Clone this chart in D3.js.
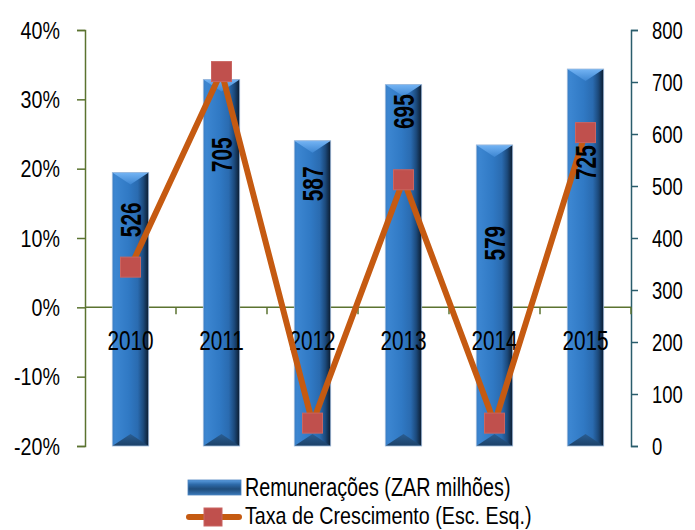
<!DOCTYPE html>
<html>
<head>
<meta charset="utf-8">
<script src="https://cdn.jsdelivr.net/npm/d3@7"></script>
<style>
  html, body { margin: 0; padding: 0; background: #fff; }
  svg { display: block; }
  text { font-family: "Liberation Sans", Arial, sans-serif; fill: #000; }
</style>
</head>
<body>
<svg id="chart" width="695" height="530"></svg>
<script>
// Remunerações anuais (ZAR milhões) e respectiva taxa de crescimento
const years = ["2010", "2011", "2012", "2013", "2014", "2015"];
const remuneracoes = [526, 705, 587, 695, 579, 725];
const taxaCrescimento = [5.8, 34.0, -16.7, 18.4, -16.7, 25.2];
const leftTicks = [-20, -10, 0, 10, 20, 30, 40];
const rightTicks = [0, 100, 200, 300, 400, 500, 600, 700, 800];
const seriesNames = ["Remunerações (ZAR milhões)", "Taxa de Crescimento (Esc. Esq.)"];

const svg = d3.select("#chart");
const plot = { left: 85, right: 631, top: 30, bottom: 446 };

const x = d3.scaleBand().domain(years).range([plot.left, plot.right]).padding(0);
const yL = d3.scaleLinear().domain([-20, 40]).range([plot.bottom, plot.top]);
const yR = d3.scaleLinear().domain([0, 800]).range([plot.bottom, plot.top]);

const barW = x.bandwidth() * 0.4;
const narrow = 0.77;

// gradients for the bevelled bars
const defs = svg.append("defs");
const gBody = defs.append("linearGradient").attr("id", "barBody")
  .attr("x1", 0).attr("x2", 1).attr("y1", 0).attr("y2", 0);
[[0, "#3a7fc6"], [0.08, "#3c86d1"], [0.45, "#3079c4"], [0.7, "#2a6bb0"],
 [0.85, "#1c4a7c"], [1, "#0b1b2e"]].forEach(([o, c]) =>
  gBody.append("stop").attr("offset", o).attr("stop-color", c));
const gTop = defs.append("linearGradient").attr("id", "barTop")
  .attr("x1", 0).attr("x2", 0).attr("y1", 0).attr("y2", 1);
[[0, "#74b4f4"], [1, "#3d86d2"]].forEach(([o, c]) =>
  gTop.append("stop").attr("offset", o).attr("stop-color", c));
const gBot = defs.append("linearGradient").attr("id", "barBot")
  .attr("x1", 0).attr("x2", 0).attr("y1", 0).attr("y2", 1);
[[0, "#2a5e93"], [1, "#1c4168"]].forEach(([o, c]) =>
  gBot.append("stop").attr("offset", o).attr("stop-color", c));
const gLeg = defs.append("linearGradient").attr("id", "legBar")
  .attr("x1", 0).attr("x2", 0).attr("y1", 0).attr("y2", 1);
[[0, "#5a9de0"], [0.3, "#2d6aa8"], [0.6, "#1f4c7a"], [1, "#3a78b8"]].forEach(([o, c]) =>
  gLeg.append("stop").attr("offset", o).attr("stop-color", c));

// condensed text helper
function narrowText(g, str, tx, ty, size, anchor, opts = {}) {
  const t = g.append("text")
    .attr("transform", `translate(${tx},${ty})${opts.rotate ? " rotate(" + opts.rotate + ")" : ""} scale(${opts.sx || narrow},1)`)
    .attr("text-anchor", anchor)
    .style("font-size", size + "px")
    .text(str);
  if (opts.bold) t.style("font-weight", "bold");
  if (opts.dy) t.attr("dy", opts.dy);
  return t;
}

// left axis (growth rate)
const axL = svg.append("g").attr("transform", `translate(${plot.left},0)`)
  .call(d3.axisLeft(yL).tickValues(leftTicks).tickSize(8).tickFormat(""));
axL.selectAll("path, line").attr("stroke", "#5b7330").attr("stroke-width", 1.5);
leftTicks.forEach(v => narrowText(svg, v + "%", 60, yL(v) + 8.6, 24, "end", { sx: 0.82 }));

// right axis (remunerations)
const axR = svg.append("g").attr("transform", `translate(${plot.right},0)`)
  .call(d3.axisRight(yR).tickValues(rightTicks).tickSize(7).tickFormat(""));
axR.selectAll("path, line").attr("stroke", "#2a5d6c").attr("stroke-width", 1.5);
rightTicks.forEach(v => narrowText(svg, String(v), 652, yR(v) + 8.6, 24, "start"));

// category axis along the 0% line
const y0 = yL(0);
const xAxis = svg.append("g");
xAxis.append("line").attr("x1", plot.left).attr("x2", plot.right)
  .attr("y1", y0).attr("y2", y0).attr("stroke", "#5b7330").attr("stroke-width", 1.5);
const bounds = years.map(d => x(d)).concat([x.range()[1]]).slice(1);
xAxis.selectAll("line.tick").data(bounds).join("line")
  .attr("class", "tick")
  .attr("x1", d => d).attr("x2", d => d)
  .attr("y1", y0).attr("y2", y0 + 7)
  .attr("stroke", "#5b7330").attr("stroke-width", 1.5);

// bevelled bars
const bev = 12;
const bars = svg.append("g");
years.forEach((yr, i) => {
  const cx = x(yr) + x.bandwidth() / 2;
  const x0 = cx - barW / 2, x1 = cx + barW / 2;
  const yt = yR(remuneracoes[i]), yb = yR(0);
  const g = bars.append("g");
  g.append("rect").attr("x", x0).attr("y", yt).attr("width", barW).attr("height", yb - yt)
    .attr("fill", "url(#barBody)");
  g.append("path").attr("d", `M${x0},${yt}L${x1},${yt}L${cx},${yt + bev}Z`)
    .attr("fill", "url(#barTop)");
  g.append("path").attr("d", `M${x0},${yb}L${x1},${yb}L${cx},${yb - bev}Z`)
    .attr("fill", "url(#barBot)");
  g.append("rect").attr("x", x0).attr("y", yt).attr("width", barW).attr("height", yb - yt)
    .attr("fill", "none").attr("stroke", "#9fbbdc").attr("stroke-width", 0.8);
});

// year labels
years.forEach(yr => narrowText(svg, yr, x(yr) + x.bandwidth() / 2, 350, 27, "middle"));

// growth line with square markers
const pts = years.map((yr, i) => [x(yr) + x.bandwidth() / 2, yL(taxaCrescimento[i])]);
svg.append("path").attr("d", d3.line()(pts))
  .attr("fill", "none").attr("stroke", "#c55a11").attr("stroke-width", 6)
  .attr("stroke-linejoin", "miter");
const mk = 20;
svg.append("g").selectAll("rect").data(pts).join("rect")
  .attr("x", d => d[0] - mk / 2).attr("y", d => d[1] - mk / 2)
  .attr("width", mk).attr("height", mk)
  .attr("fill", "#c0504d").attr("stroke", "#c96562").attr("stroke-width", 1);

// value labels inside the bars, placed along the right-axis scale
const labelAt = [435, 560, 504, 643, 390, 545];
years.forEach((yr, i) => {
  const cx = x(yr) + x.bandwidth() / 2;
  narrowText(svg, String(remuneracoes[i]), cx, yR(labelAt[i]), 29, "middle",
    { rotate: -90, bold: true, sx: 0.72, dy: "0.36em" });
});

// legend
const lg = svg.append("g");
lg.append("rect").attr("x", 188).attr("y", 480).attr("width", 53).attr("height", 15)
  .attr("fill", "url(#legBar)").attr("stroke", "#4a82be").attr("stroke-width", 0.8);
narrowText(lg, seriesNames[0], 245, 496, 25, "start", { sx: 0.79 });
lg.append("line").attr("x1", 189).attr("x2", 239).attr("y1", 517).attr("y2", 517)
  .attr("stroke", "#c55a11").attr("stroke-width", 6).attr("stroke-linecap", "round");
lg.append("rect").attr("x", 204).attr("y", 508).attr("width", 18).attr("height", 18)
  .attr("fill", "#c0504d").attr("stroke", "#c96562").attr("stroke-width", 1);
narrowText(lg, seriesNames[1], 245, 524, 24, "start", { sx: 0.82 });
</script>
</body>
</html>
